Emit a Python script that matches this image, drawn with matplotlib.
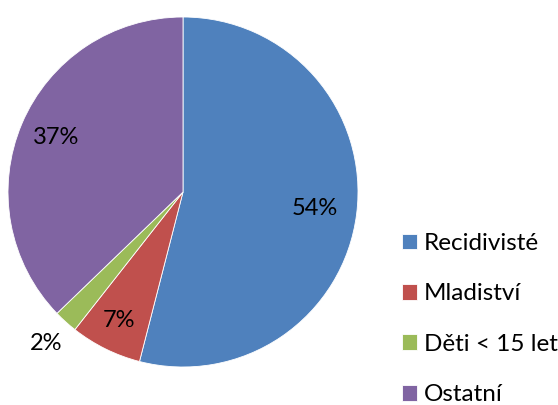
import matplotlib
matplotlib.use("Agg")
import matplotlib.pyplot as plt
import numpy as np

categories = ["Recidivisté", "Mladiství", "Děti < 15 let", "Ostatní"]
values = [54.0, 6.6, 2.2, 37.2]
colors = ["#4F81BD", "#C0504D", "#9BBB59", "#8064A2"]
label_dist = [0.76, 0.82, 1.17, 0.79]

plt.rcParams['font.family'] = ['Lato', 'DejaVu Sans']

W, H = 558, 405
fig = plt.figure(figsize=(W/100, H/100), dpi=100)
cx, cy, r = 183, 192, 175
ax = fig.add_axes([(cx-r)/W, 1-(cy+r)/H, 2*r/W, 2*r/H])
wedges, texts, autotexts = ax.pie(values, colors=colors, startangle=90, counterclock=False,
                                  autopct='%.0f%%', pctdistance=0.78,
                                  wedgeprops=dict(edgecolor='white', linewidth=0.6),
                                  textprops=dict(fontsize=17, color='black'))
total = sum(values)
cum = 0
for w, t, d, v in zip(wedges, autotexts, label_dist, values):
    mid = np.deg2rad(90 - (cum + v/2)/total*360)
    t.set_position((d*np.cos(mid), d*np.sin(mid)))
    cum += v
ax.set_xlim(-1, 1)
ax.set_ylim(-1, 1)
ax.set_aspect('equal')
ax.axis('off')

leg = fig.legend(wedges, categories, loc='upper left',
                 bbox_to_anchor=(402/W, 1-233/H), frameon=False,
                 borderaxespad=0, borderpad=0, fontsize=17.5,
                 handlelength=0.62, handleheight=0.62, handletextpad=0.28,
                 labelspacing=1.21)
fig.savefig("out.png", dpi=100)
